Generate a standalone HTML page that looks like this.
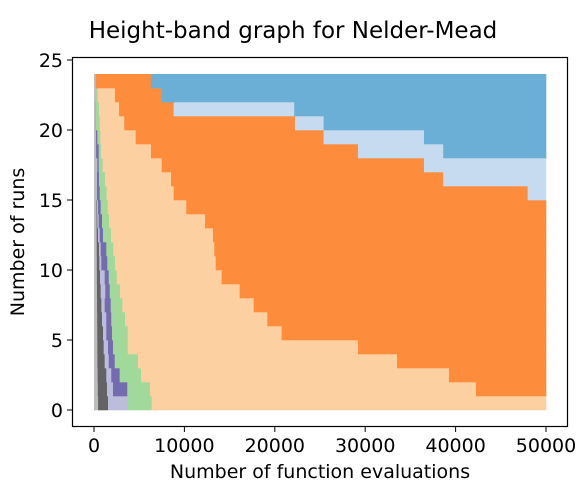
<!DOCTYPE html>
<html><head><meta charset="utf-8"><style>
html,body{margin:0;padding:0;background:#fff;}
svg{display:block;font-family:"DejaVu Sans","Liberation Sans",sans-serif;}
</style></head><body>
<svg id="chart" width="588" height="492" viewBox="0 0 588 492" xmlns="http://www.w3.org/2000/svg">
<rect width="588" height="492" fill="#fff"/>
<text x="293" y="38" text-anchor="middle" font-size="23" fill="#000">Height-band graph for Nelder-Mead</text>
<g id="bands"></g>
<g id="axes"></g>
<text x="320" y="478" text-anchor="middle" font-size="19" fill="#000">Number of function evaluations</text>
<text transform="translate(24,242) rotate(-90)" text-anchor="middle" font-size="19" fill="#000">Number of runs</text>
</svg>
<script>
// boundary arrays (function evaluations), index = row k (runs k..k+1)
const lightGrayEnd = [450,420,400,380,370,360,350,340,330,320,310,300,290,280,270,260,250,240,230,220,200,180,160,150];
const darkGrayEnd = [1550,1440,1360,1180,1070,1000,885,810,740,660,590,550,440,365,330,255,220,220,145,110,110,90,80,60];
const lightPurpleEnd = [3680,2100,1910,1630,1550,1360,1360,1180,1250,1180,810,740,630,520,440,330,330,365,220,170,110,110,80,60];
const purpleEnd = [3680,3680,2840,2290,2100,1990,1910,1850,1740,1630,1470,1360,1000,885,740,630,550,520,520,365,220,190,145,80];
const greenEnd = [6380,6190,5200,4870,3730,3730,3430,3130,2880,2510,2320,2130,1880,1660,1520,1400,1220,960,770,700,630,550,410,190];
const lightOrangeEnd = [50000,42250,39260,33510,29200,20760,19170,17660,16110,14120,13460,13310,13160,12280,10210,8810,8520,7490,6300,4610,3350,2770,2320,190];
const orangeEnd = [50000,50000,50000,50000,50000,50000,50000,50000,50000,50000,50000,50000,50000,50000,50000,47970,38630,36500,29200,25400,22230,8810,7490,6300];
const lightBlueEnd = [50000,50000,50000,50000,50000,50000,50000,50000,50000,50000,50000,50000,50000,50000,50000,50000,50000,50000,38630,36500,25400,22150,7490,6300];
const maxEvals = 50000;
const xTicks = [0,10000,20000,30000,40000,50000];
const yTicks = [0,5,10,15,20,25];

const NS = "http://www.w3.org/2000/svg";
const X0 = 94, X1 = 546, Y0 = 410, PX_PER_RUN = 14;
function xs(v){ return X0 + (v/50000)*(X1-X0); }
function ys(v){ return Y0 - v*PX_PER_RUN; }

const bandDefs = [
  {name:'light-gray', color:'#bdbdbd', ends:lightGrayEnd},
  {name:'dark-gray', color:'#636363', ends:darkGrayEnd},
  {name:'light-purple', color:'#bcbddc', ends:lightPurpleEnd},
  {name:'purple', color:'#756bb1', ends:purpleEnd},
  {name:'green', color:'#a1d99b', ends:greenEnd},
  {name:'light-orange', color:'#fdd0a2', ends:lightOrangeEnd},
  {name:'orange', color:'#fd8d3c', ends:orangeEnd},
  {name:'light-blue', color:'#c6dbef', ends:lightBlueEnd},
  {name:'blue', color:'#6baed6', ends:null}
];
const bands = document.getElementById('bands');
for (let k = 0; k < lightGrayEnd.length; k++) {
  let start = 0;
  bandDefs.forEach(b => {
    const end = b.ends ? Math.max(start, b.ends[k]) : maxEvals;
    if (end > start) {
      const r = document.createElementNS(NS,'rect');
      
      
      r.setAttribute('x', xs(start));
      r.setAttribute('y', ys(k+1));
      r.setAttribute('width', xs(end) - xs(start) + 0.3);
      r.setAttribute('height', PX_PER_RUN + 0.3);
      r.setAttribute('fill', b.color);
      bands.appendChild(r);
    }
    start = end;
  });
}
const axes = document.getElementById('axes');
const frame = document.createElementNS(NS,'rect');


frame.setAttribute('x', 72.5); frame.setAttribute('y', 57.5);
frame.setAttribute('width', 495); frame.setAttribute('height', 369);
frame.setAttribute('fill', 'none'); frame.setAttribute('stroke', '#000'); frame.setAttribute('stroke-width', '1.2');
axes.appendChild(frame);
xTicks.forEach(t => {
  const l = document.createElementNS(NS,'line');
  
  
  l.setAttribute('x1', xs(t)); l.setAttribute('x2', xs(t));
  l.setAttribute('y1', 427); l.setAttribute('y2', 432);
  l.setAttribute('stroke', '#000');
  axes.appendChild(l);
  const tx = document.createElementNS(NS,'text');
  
  
  tx.setAttribute('x', xs(t)); tx.setAttribute('y', 452);
  tx.setAttribute('text-anchor', 'middle'); tx.setAttribute('font-size', '19');
  tx.textContent = t;
  axes.appendChild(tx);
});
yTicks.forEach(t => {
  const l = document.createElementNS(NS,'line');
  
  
  l.setAttribute('x1', 67); l.setAttribute('x2', 72);
  l.setAttribute('y1', ys(t)); l.setAttribute('y2', ys(t));
  l.setAttribute('stroke', '#000');
  axes.appendChild(l);
  const tx = document.createElementNS(NS,'text');
  
  
  tx.setAttribute('x', 63); tx.setAttribute('y', ys(t) + 7);
  tx.setAttribute('text-anchor', 'end'); tx.setAttribute('font-size', '19');
  tx.textContent = t;
  axes.appendChild(tx);
});
</script>
</body></html>
